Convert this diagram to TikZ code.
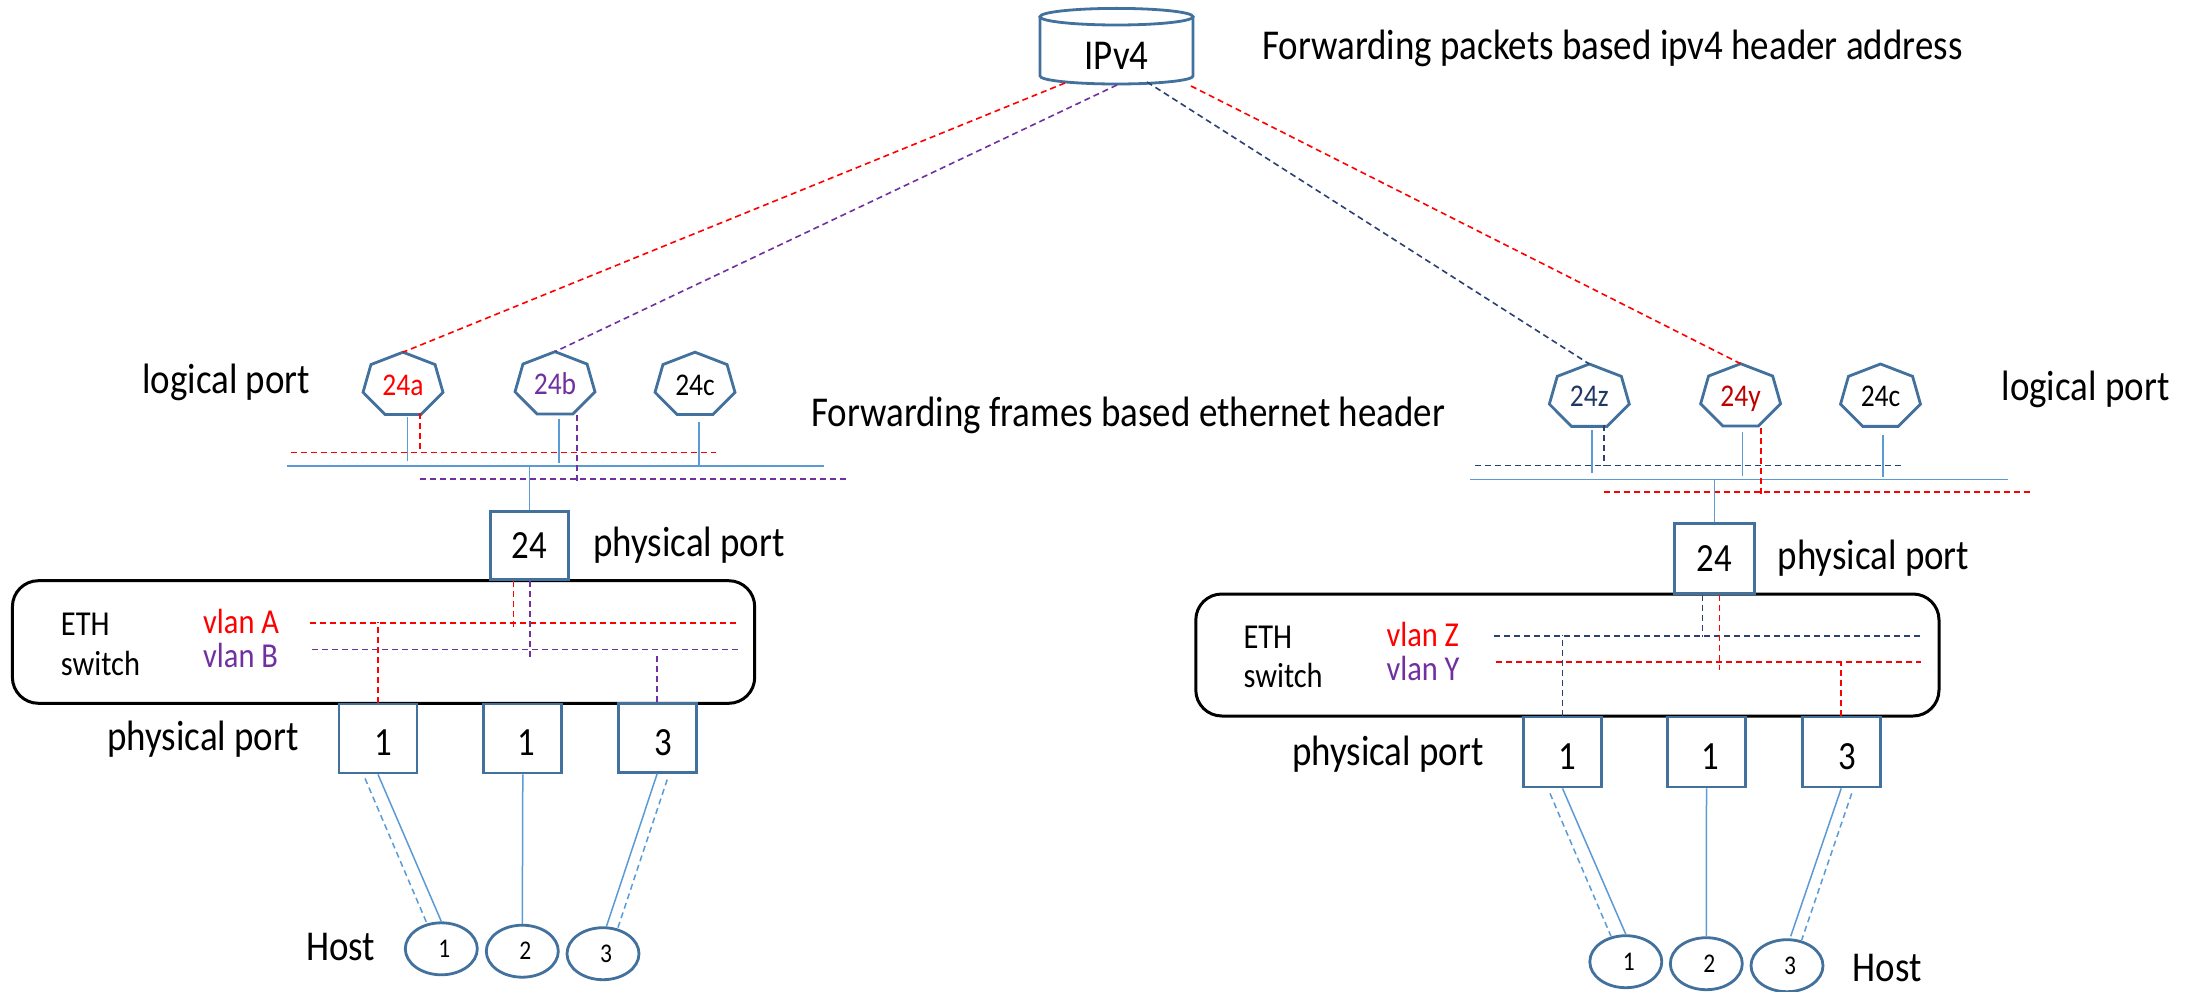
\documentclass[tikz,border=0pt]{standalone}
\usepackage{fontspec}
\setmainfont{Carlito}[FakeStretch=0.87]
\usetikzlibrary{calc,shapes.geometric}
\definecolor{outline}{HTML}{41719C}
\definecolor{wire}{HTML}{5B9BD5}
\definecolor{vred}{HTML}{FF0000}
\definecolor{vpurple}{HTML}{7030A0}
\definecolor{vnavy}{HTML}{2B4170}
\definecolor{tnavy}{HTML}{1F3864}
\definecolor{dred}{HTML}{C00000}
\newcommand\fmain{\fontsize{42.5}{50}\selectfont}
\newcommand\feth{\fontsize{35}{42}\selectfont}
\newcommand\fhept{\fontsize{31.6}{36}\selectfont}
\newcommand\fport{\fontsize{40}{46}\selectfont}
\newcommand\fhost{\fontsize{27}{32}\selectfont}
% flattened heptagon outline around a named centre, vertex on top
\newcommand\heptoutline[1]{%
  \draw[shapeline] ($(#1)+(270:41 and 32.8)$)
    \foreach \k in {1,...,6}{ -- ($(#1)+(270+\k*51.4286:41 and 32.8)$)} -- cycle;
  \coordinate (#1-t) at ($(#1)+(0,-32.8)$);}
\begin{document}
\begin{tikzpicture}[x=1pt,y=-1pt,
  shapeline/.style={draw=outline,line width=2.8pt},
  wire/.style={draw=wire,line width=1.5pt},
  wiredash/.style={wire,dash pattern=on 6pt off 4pt},
  vdash/.style={line width=1.6pt,dash pattern=on 6pt off 4pt},
  lbl/.style={inner sep=0pt,anchor=base west,font=\fmain},
  ethlbl/.style={inner sep=0pt,anchor=base west,font=\feth},
  heptlbl/.style={inner sep=0pt,font=\fhept,text height=20pt,text depth=0pt},
  portbox/.style={shapeline,fill=white,minimum width=78pt,minimum height=69pt,inner sep=0pt},
  portnum/.style={inner sep=0pt,font=\fport},
  hostnode/.style={ellipse,shapeline,fill=white,minimum width=72pt,minimum height=52pt,inner sep=0pt},
  hostnum/.style={inner sep=0pt,font=\fhost},
  ethbox/.style={draw=black,line width=3pt,rounded corners=26pt,inner sep=0pt},
]
\fill[white] (0,0) rectangle (2200,992);
\useasboundingbox (0,0) rectangle (2200,992);

% ---------------- IPv4 router ----------------
\draw[shapeline,fill=white] (1040,16.7) -- (1040,76)
  arc[start angle=180,end angle=0,x radius=76.5,y radius=8] -- (1193,16.7);
\draw[shapeline] (1116.5,16.7) ellipse[x radius=76.5,y radius=8.3];
\node[inner sep=0pt,anchor=base,font=\fmain] (ipv4) at (1116.5,70) {IPv4};
\node[lbl] (fwdpk) at (1262,60) {Forwarding packets based ipv4 header address};
\coordinate (cR1) at (1065,83);
\coordinate (cP) at (1117,85);
\coordinate (cN) at (1147,82);
\coordinate (cR2) at (1191,86);

% ---------------- left side: logical ports ----------------
\node[heptlbl,text=vred] (p24a) at (403,385) {24a};
\node[heptlbl,text=vpurple] (p24b) at (555,384.5) {24b};
\node[heptlbl] (p24c) at (695,385) {24c};
\heptoutline{p24a}
\heptoutline{p24b}
\heptoutline{p24c}
\node[lbl] (logL) at (142,393) {logical port};
\node[lbl] (fwdfr) at (811,426.7) {Forwarding frames based ethernet header};

\draw[vdash,vred] (cR1) -- (p24a-t);
\draw[vdash,vpurple] (cP) -- (p24b-t);

% bridge bus with vlan A / vlan B
\coordinate (busLw) at (286.5,466);
\coordinate (busLe) at (824,466);
\draw[wire] (busLw) -- (busLe);
\draw[wire] (407.5,417) -- (407.5,461);
\draw[wire] (559,419) -- (559,463);
\draw[wire] (699,422) -- (699,466);
\draw[vdash,vred] (290.6,452.3) -- (716,452.3);
\draw[vdash,vred] (420,413) -- (420,452.3);
\draw[vdash,vpurple] (420,479) -- (846,479);
\draw[vdash,vpurple] (576.7,415) -- (576.7,482.7);

% ETH switch with ports
\node[ethbox,minimum width=742.3pt,minimum height=122.6pt] (ethL) at (383.55,642) {};
\node[portbox,minimum height=68pt] (phyL) at (529.3,545.3) {};
\node[portnum] (phyLn) at (phyL) {24};
\draw[wire] (phyL.north) -- ++(0,-44.7);
\node[lbl] (phyLlbl) at (593,556) {physical port};
\node[ethlbl] (ethLa) at (60.7,635) {ETH};
\node[ethlbl] (ethLb) at (60.7,675) {switch};
\node[ethlbl,text=vred] (vlanA) at (203,633) {vlan A};
\node[ethlbl,text=vpurple] (vlanB) at (203,667) {vlan B};
\draw[vdash,vred] (309.5,622.7) -- (736,622.7);
\draw[vdash,vpurple] (312,649.3) -- (739,649.3);
\draw[vdash,vred] ($(phyL.south)+(-16,0)$) -- ++(0,48.3);
\draw[vdash,vpurple] ($(phyL.south)+(0.7,0)$) -- ++(0,79.3);

\node[portbox] (portL1) at (378,738.5) {};
\node[portbox] (portL2) at (522.8,738.5) {};
\node[portbox] (portL3) at (657.2,737.7) {};
\node[portnum] (portL1n) at ($(portL1)+(5,4.5)$) {1};
\node[portnum] (portL2n) at ($(portL2)+(4,4.5)$) {1};
\node[portnum] (portL3n) at ($(portL3)+(6,4.5)$) {3};
\draw[vdash,vred] (portL1.north) -- ++(0,-80.6);
\draw[vdash,vpurple] (portL3.north) -- ++(0,-48);
\node[lbl] (portLlbl) at (107,750) {physical port};

% hosts
\node[hostnode] (hostL1) at (441.3,948.8) {};
\node[hostnode] (hostL2) at (522.3,951.2) {};
\node[hostnode] (hostL3) at (603,953.7) {};
\node[hostnum] (hostL1n) at ($(hostL1)+(3,0)$) {1};
\node[hostnum] (hostL2n) at ($(hostL2)+(3,0)$) {2};
\node[hostnum] (hostL3n) at ($(hostL3)+(3,0)$) {3};
\node[lbl] (hostLlbl) at (306,960) {Host};
\draw[wire] (portL1.south) -- (hostL1.north);
\draw[wiredash] ($(portL1.south)+(-13,4)$) -- ($(hostL1.north)+(-14.6,1.5)$);
\draw[wire] (portL2.south) -- (hostL2.north);
\draw[wire] (portL3.south) -- ($(hostL3.north)+(3.5,0)$);
\draw[wiredash] ($(portL3.south)+(10,6)$) -- ($(hostL3.north)+(14.7,2)$);

% ---------------- right side: logical ports ----------------
\node[heptlbl,text=tnavy] (p24z) at (1589.3,396.8) {24z};
\node[heptlbl,text=dred] (p24y) at (1740.6,396.5) {24y};
\node[heptlbl] (p24cR) at (1880.5,396.8) {24c};
\heptoutline{p24z}
\heptoutline{p24y}
\heptoutline{p24cR}
\node[lbl] (logR) at (2001.4,400) {logical port};

\draw[vdash,vnavy] (cN) -- (p24z-t);
\draw[vdash,vred] (cR2) -- (p24y-t);

% bridge bus with vlan Z / vlan Y
\coordinate (busRw) at (1470,479.3);
\coordinate (busRe) at (2007.6,479.3);
\draw[wire] (busRw) -- (busRe);
\draw[wire] (1592.2,430) -- (1592.2,473.3);
\draw[wire] (1742.7,432) -- (1742.7,475.7);
\draw[wire] (1883.2,435) -- (1883.2,477.3);
\draw[vdash,vnavy] (1475,465.3) -- (1901,465.3);
\draw[vdash,vnavy] (1604.2,425) -- (1604.2,465.3);
\draw[vdash,vred] (1604.2,491.7) -- (2029.6,491.7);
\draw[vdash,vred] (1761,428.3) -- (1761,495);

% ETH switch with ports
\node[ethbox,minimum width=743.2pt,minimum height=122pt] (ethR) at (1567.4,655) {};
\node[portbox,minimum width=80pt,minimum height=70pt] (phyR) at (1714.3,558.3) {};
\node[portnum] (phyRn) at (phyR) {24};
\draw[wire] (phyR.north) -- ++(0,-43.4);
\node[lbl] (phyRlbl) at (1777.5,569) {physical port};
\node[ethlbl] (ethRa) at (1243.3,648.3) {ETH};
\node[ethlbl] (ethRb) at (1243.3,687.3) {switch};
\node[ethlbl,text=vred] (vlanZ) at (1386.3,646) {vlan Z};
\node[ethlbl,text=vpurple] (vlanY) at (1386.3,680) {vlan Y};
\draw[vdash,vnavy] (1494,635.7) -- (1919.5,635.7);
\draw[vdash,vred] (1496.4,661.7) -- (1921,661.7);
\draw[vdash,vnavy] ($(phyR.south)+(-12,0)$) -- ++(0,42);
\draw[vdash,vred] ($(phyR.south)+(5,0)$) -- ++(0,75);

\node[portbox,minimum height=70pt] (portR1) at (1562.5,752) {};
\node[portbox,minimum height=70pt] (portR2) at (1706.5,752) {};
\node[portbox,minimum height=70pt] (portR3) at (1841.2,752) {};
\node[portnum] (portR1n) at ($(portR1)+(4.5,4.5)$) {1};
\node[portnum] (portR2n) at ($(portR2)+(4,4.5)$) {1};
\node[portnum] (portR3n) at ($(portR3)+(6,4.5)$) {3};
\draw[vdash,vnavy] (portR1.north) -- ++(0,-80.3);
\draw[vdash,vred] (portR3.north) -- ++(0,-54.8);
\node[lbl] (portRlbl) at (1291.8,765) {physical port};

% hosts
\node[hostnode] (hostR1) at (1625.8,961.7) {};
\node[hostnode] (hostR2) at (1706.3,963.7) {};
\node[hostnode] (hostR3) at (1787,965.7) {};
\node[hostnum] (hostR1n) at ($(hostR1)+(3,0)$) {1};
\node[hostnum] (hostR2n) at ($(hostR2)+(3,0)$) {2};
\node[hostnum] (hostR3n) at ($(hostR3)+(3,0)$) {3};
\node[lbl] (hostRlbl) at (1852.7,981) {Host};
\draw[wire] (portR1.south) -- (hostR1.north);
\draw[wiredash] ($(portR1.south)+(-12.5,5)$) -- ($(hostR1.north)+(-14.8,2)$);
\draw[wire] (portR2.south) -- (hostR2.north);
\draw[wire] (portR3.south) -- ($(hostR3.north)+(3.7,-2)$);
\draw[wiredash] ($(portR3.south)+(10.5,5)$) -- ($(hostR3.north)+(14.7,1.7)$);
\end{tikzpicture}
\end{document}
